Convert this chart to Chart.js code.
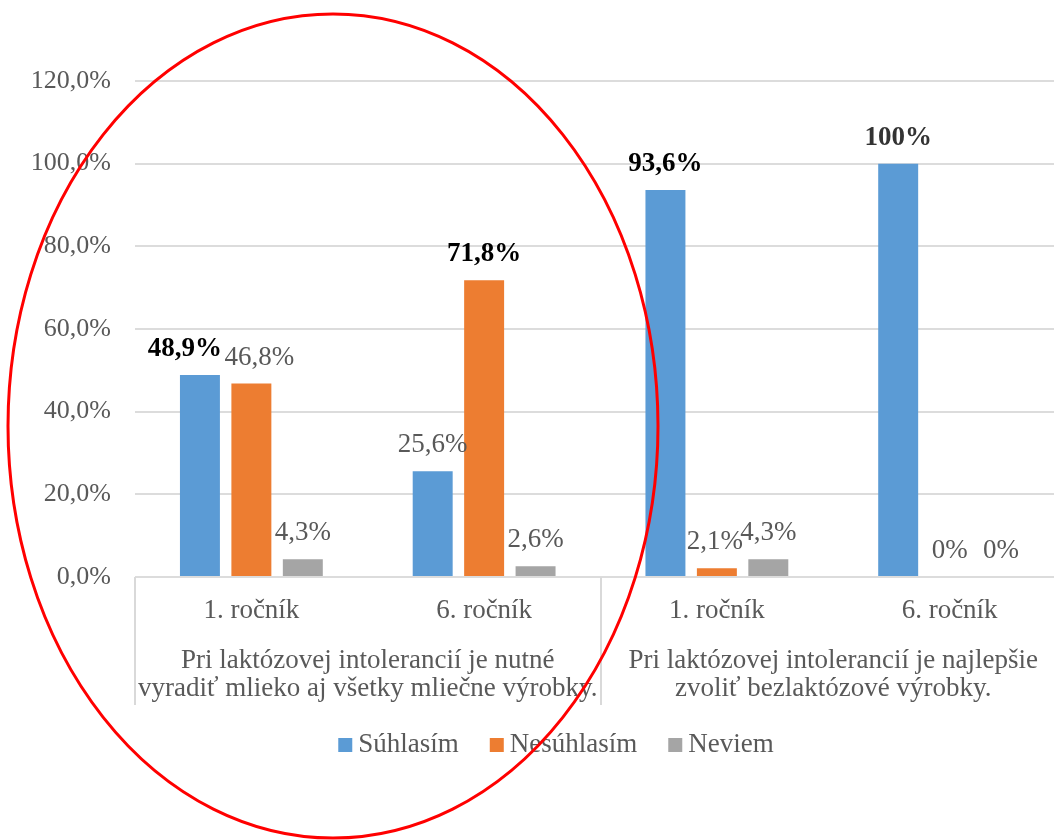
<!DOCTYPE html>
<html>
<head>
<meta charset="utf-8">
<script src="https://cdn.jsdelivr.net/npm/chart.js@4/dist/chart.umd.min.js"></script>
<style>
html, body { margin: 0; padding: 0; background: #fff; overflow: hidden; }
#wrap { width: 1070px; height: 840px; }
</style>
</head>
<body>
<div id="wrap"><canvas id="chart" width="1070" height="840"></canvas></div>
<script>
const categories = ["1. ročník", "6. ročník", "1. ročník", "6. ročník"];
const groupLabels = [
    ["Pri laktózovej intolerancií je nutné", "vyradiť mlieko aj všetky mliečne výrobky."],
    ["Pri laktózovej intolerancií je najlepšie", "zvoliť bezlaktózové výrobky."]
];
const seriesNames = ["Súhlasím", "Nesúhlasím", "Neviem"];
const suhlasim = [48.9, 25.6, 93.6, 100];
const nesuhlasim = [46.8, 71.8, 2.1, 0];
const neviem = [4.3, 2.6, 4.3, 0];
const boldLabels = [
    [true, false, true, true],
    [false, true, false, false],
    [false, false, false, false]
];
const yMax = 120;
const yStep = 20;

const colors = ["#5B9BD5", "#ED7D31", "#A5A5A5"];
const FONT = "'Liberation Serif', 'DejaVu Serif', serif";
const textGray = "#595959";

function pct(v) {
    if (v === 0 || v === 100) return v + "%";
    return v.toFixed(1).replace(".", ",") + "%";
}

// small horizontal nudges for labels that sit off-centre in the original
const labelNudge = { "0-0": -15, "1-0": 8, "1-2": -2 };

const overlayPlugin = {
    id: "overlay",
    afterDatasetsDraw(chart) {
        const ctx = chart.ctx;
        ctx.save();
        ctx.textAlign = "center";
        ctx.textBaseline = "middle";
        chart.data.datasets.forEach((ds, di) => {
            const meta = chart.getDatasetMeta(di);
            meta.data.forEach((bar, i) => {
                const bold = boldLabels[di][i];
                ctx.font = (bold ? "bold " : "") + "27px " + FONT;
                ctx.fillStyle = bold ? (ds.data[i] === 100 ? "#333333" : "#000000") : textGray;
                const dx = labelNudge[di + "-" + i] || 0;
                ctx.fillText(pct(ds.data[i]), bar.x + dx, bar.y - 26);
            });
        });
        ctx.restore();
    },
    afterDraw(chart) {
        const ctx = chart.ctx;
        const xs = chart.scales.x;
        const area = chart.chartArea;
        ctx.save();

        // category labels
        ctx.fillStyle = textGray;
        ctx.textAlign = "center";
        ctx.textBaseline = "middle";
        ctx.font = "27px " + FONT;
        categories.forEach((c, i) => {
            ctx.fillText(c, xs.getPixelForValue(i), area.bottom + 34);
        });

        // group labels and separators
        const half = (xs.getPixelForValue(1) - xs.getPixelForValue(0)) / 2;
        ctx.strokeStyle = "#d9d9d9";
        ctx.lineWidth = 2;
        groupLabels.forEach((lines, g) => {
            const left = xs.getPixelForValue(g * 2) - half;
            const right = xs.getPixelForValue(g * 2 + 1) + half;
            const mid = (left + right) / 2;
            lines.forEach((t, k) => {
                ctx.fillText(t, mid, area.bottom + 84 + k * 28);
            });
            [left, right].forEach(x => {
                ctx.beginPath();
                ctx.moveTo(Math.round(x), area.bottom);
                ctx.lineTo(Math.round(x), area.bottom + 128);
                ctx.stroke();
            });
        });

        // legend
        ctx.font = "27px " + FONT;
        ctx.textAlign = "left";
        const box = 14, gapBox = 6, gapItem = 31;
        const widths = seriesNames.map(n => box + gapBox + ctx.measureText(n).width);
        const total = widths.reduce((a, b) => a + b, 0) + gapItem * (seriesNames.length - 1);
        let x = 556 - total / 2;
        const ly = 745;
        seriesNames.forEach((n, i) => {
            ctx.fillStyle = colors[i];
            ctx.fillRect(x, ly - box / 2, box, box);
            ctx.fillStyle = textGray;
            ctx.fillText(n, x + box + gapBox, ly);
            x += widths[i] + gapItem;
        });

        // red ellipse
        ctx.strokeStyle = "#ff0000";
        ctx.lineWidth = 3;
        ctx.beginPath();
        ctx.ellipse(333, 426, 325, 412, 0, 0, Math.PI * 2);
        ctx.stroke();

        ctx.restore();
    }
};

const chart = new Chart(document.getElementById("chart").getContext("2d"), {
    type: "bar",
    data: {
        labels: categories,
        datasets: seriesNames.map((name, i) => ({
            label: name,
            data: [suhlasim, nesuhlasim, neviem][i],
            backgroundColor: colors[i],
            categoryPercentage: 0.663,
            barPercentage: 0.777
        }))
    },
    options: {
        responsive: false,
        animation: false,
        devicePixelRatio: 1,
        layout: { padding: { top: 81, bottom: 263, left: 0, right: 4 } },
        plugins: {
            legend: { display: false },
            tooltip: { enabled: false }
        },
        scales: {
            x: { display: false },
            y: {
                min: 0,
                max: yMax,
                afterFit(scale) { scale.width = 135; },
                ticks: {
                    stepSize: yStep,
                    padding: 24,
                    color: textGray,
                    font: { family: FONT, size: 26 },
                    callback: v => v.toFixed(1).replace(".", ",") + "%"
                },
                grid: { color: "#dcdcdc", lineWidth: 2, drawTicks: false },
                border: { display: false }
            }
        }
    },
    plugins: [overlayPlugin]
});
</script>
</body>
</html>
